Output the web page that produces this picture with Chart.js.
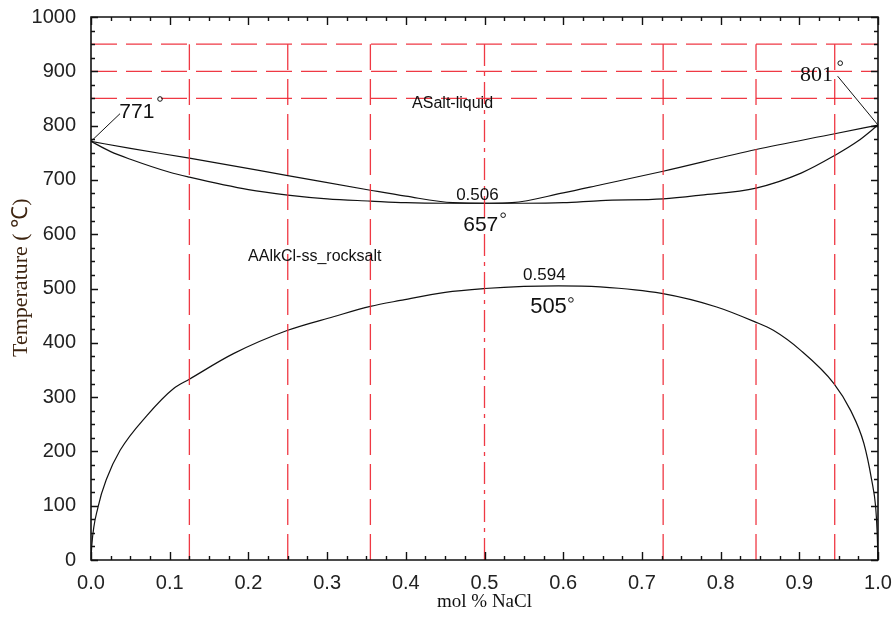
<!DOCTYPE html>
<html>
<head>
<meta charset="utf-8">
<script src="https://cdn.jsdelivr.net/npm/chart.js@4"></script>
<style>
  body { margin: 0; background: #fff; }
  #wrap { width: 894px; height: 618px; }
</style>
</head>
<body>
<div id="wrap"><canvas id="phase" width="894" height="618"></canvas></div>
<script>
// KCl - NaCl binary: liquidus, solidus and the rocksalt solvus
const liquidusX = [0, 0.05, 0.125, 0.25, 0.355, 0.4, 0.46, 0.506, 0.535, 0.6, 0.648, 0.727, 0.845, 0.945, 1];
const liquidusT = [771, 758, 740, 708, 681, 670, 658, 657, 658, 676, 691, 716, 756, 785, 801];

const solidusX = [0, 0.025, 0.05, 0.1, 0.125, 0.2, 0.25, 0.3, 0.355, 0.4, 0.45, 0.506, 0.55, 0.6, 0.648, 0.727, 0.775, 0.845, 0.903, 0.945, 0.975, 1];
const solidusT = [771, 752, 738, 714, 705, 682, 672, 665, 661, 658, 657, 657, 657, 658, 662, 665, 672, 685, 713, 745, 772, 801];

const solvusX = [0, 0.001, 0.009, 0.02, 0.037, 0.071, 0.105, 0.125, 0.181, 0.25, 0.308, 0.355, 0.393, 0.45, 0.5, 0.55, 0.594, 0.647, 0.725, 0.795, 0.843, 0.867, 0.901, 0.944, 0.965, 0.982, 0.992, 0.997, 0.999, 1];
const solvusT = [0, 27, 98, 150, 202, 266, 316, 333, 380, 423, 448, 467, 478, 493, 500, 504, 505, 503, 491, 466, 439, 423, 387, 325, 276, 215, 147, 98, 49, 0];

// red reference isotherms and isopleths
const isotherms = [850, 900, 950];
const isopleths = [0.125, 0.25, 0.355, 0.5, 0.727, 0.845, 0.945];
const isoplethTop = 950;

// axis ranges
const xMin = 0, xMax = 1, xStep = 0.025;
const tMin = 0, tMax = 1000, tStep = 25;

// text on the diagram: [text, x, T]
const fieldLabels = [
  ["ASalt-liquid", 0.408, 841],
  ["AAlkCl-ss_rocksalt", 0.1996, 558]
];
// invariant points
const minimumX = 0.506, minimumT = 657;
const maximumX = 0.594, maximumT = 505;
const meltKCl = 771, meltNaCl = 801;

const toPts = (xs, ys) => xs.map((x, i) => ({ x: x, y: ys[i] }));

const red = "rgba(238, 40, 52, 0.92)";
const datasets = [];

isotherms.forEach(t => {
  datasets.push({
    data: [{ x: xMin, y: t }, { x: xMax, y: t }],
    borderColor: red, borderWidth: 1.3, borderDash: [26, 9]
  });
});
isopleths.forEach(x => {
  datasets.push({
    data: [{ x: x, y: tMin }, { x: x, y: isoplethTop }],
    borderColor: red, borderWidth: 1.3,
    borderDash: x === 0.5 ? [22, 6, 4, 6] : [26, 9]
  });
});
[[liquidusX, liquidusT], [solidusX, solidusT], [solvusX, solvusT]].forEach(([xs, ts]) => {
  datasets.push({
    data: toPts(xs, ts),
    borderColor: "#111", borderWidth: 1.2,
    cubicInterpolationMode: "monotone"
  });
});

const sans = "'Liberation Sans', Arial, sans-serif";
const serif = "'Liberation Serif', 'Times New Roman', serif";

function degree(ctx, px, py) {
  ctx.beginPath();
  ctx.arc(px, py, 2.3, 0, Math.PI * 2);
  ctx.lineWidth = 1;
  ctx.strokeStyle = "#111";
  ctx.stroke();
}

const diagramText = {
  id: "diagramText",
  afterDatasetsDraw(chart) {
    const { ctx, scales: { x, y } } = chart;
    ctx.save();
    ctx.fillStyle = "#111";
    ctx.textBaseline = "middle";
    ctx.textAlign = "left";

    ctx.font = "16px " + sans;
    fieldLabels.forEach(([txt, vx, vt]) => {
      ctx.fillText(txt, x.getPixelForValue(vx), y.getPixelForValue(vt));
    });

    // congruent minimum on the liquidus
    ctx.font = "17px " + sans;
    ctx.fillText(minimumX.toFixed(3), x.getPixelForValue(0.464), y.getPixelForValue(672));
    ctx.font = "21px " + sans;
    ctx.fillText(String(minimumT), x.getPixelForValue(0.473), y.getPixelForValue(617));
    degree(ctx, x.getPixelForValue(0.5237), y.getPixelForValue(635));

    // solvus crest
    ctx.font = "17px " + sans;
    ctx.fillText(maximumX.toFixed(3), x.getPixelForValue(0.549), y.getPixelForValue(525));
    ctx.font = "22px " + sans;
    ctx.fillText(String(maximumT), x.getPixelForValue(0.558), y.getPixelForValue(466));
    degree(ctx, x.getPixelForValue(0.6098), y.getPixelForValue(479));

    // melting points of the end members with leader lines
    ctx.lineWidth = 1;
    ctx.strokeStyle = "#111";
    ctx.beginPath();
    ctx.moveTo(x.getPixelForValue(0), y.getPixelForValue(meltKCl));
    ctx.lineTo(x.getPixelForValue(0.0369), y.getPixelForValue(822));
    ctx.moveTo(x.getPixelForValue(1), y.getPixelForValue(meltNaCl));
    ctx.lineTo(x.getPixelForValue(0.9487), y.getPixelForValue(891));
    ctx.stroke();

    ctx.font = "21px " + sans;
    ctx.fillText(String(meltKCl), x.getPixelForValue(0.036), y.getPixelForValue(825));
    degree(ctx, x.getPixelForValue(0.0877), y.getPixelForValue(849));
    ctx.font = "22px " + serif;
    ctx.fillText(String(meltNaCl), x.getPixelForValue(0.901), y.getPixelForValue(893));
    degree(ctx, x.getPixelForValue(0.952), y.getPixelForValue(915));

    ctx.restore();
  },
  afterDraw(chart) {
    const { ctx, scales: { x, y } } = chart;
    const L = x.left, R = x.right, T = y.top, B = y.bottom;
    ctx.save();
    ctx.setLineDash([]);

    // frame
    ctx.strokeStyle = "#111";
    ctx.lineWidth = 1.6;
    ctx.beginPath();
    ctx.rect(L, T, R - L, B - T);
    ctx.stroke();

    // inward tick marks on all four sides
    ctx.lineWidth = 1.4;
    ctx.beginPath();
    x.ticks.forEach(t => {
      const px = Math.round(x.getPixelForValue(t.value)) + 0.5;
      const len = t.label !== "" ? 8 : 4;
      ctx.moveTo(px, B); ctx.lineTo(px, B - len);
      ctx.moveTo(px, T); ctx.lineTo(px, T + len);
    });
    y.ticks.forEach(t => {
      const py = Math.round(y.getPixelForValue(t.value)) + 0.5;
      const len = t.label !== "" ? 7 : 4;
      ctx.moveTo(L, py); ctx.lineTo(L + len, py);
      ctx.moveTo(R, py); ctx.lineTo(R - len, py);
    });
    ctx.stroke();

    // axis titles
    ctx.textBaseline = "middle";
    ctx.fillStyle = "#111";
    ctx.font = "19px " + serif;
    ctx.textAlign = "center";
    ctx.fillText("mol % NaCl", (L + R) / 2, 602);

    ctx.translate(21, 357);
    ctx.rotate(-Math.PI / 2);
    ctx.textAlign = "left";
    ctx.fillStyle = "#3d2410";
    ctx.font = "22px " + serif;
    ctx.fillText("Temperature ( ℃)", 0, 0);
    ctx.restore();
  }
};

const tickFont = { family: "'Liberation Sans', Arial, sans-serif", size: 20 };

// keep the plot box fixed; labels may overhang the edges
function fixBox(s) {
  s.paddingTop = 0; s.paddingBottom = 0; s.paddingLeft = 0; s.paddingRight = 0;
}

new Chart(document.getElementById("phase"), {
  type: "scatter",
  data: { datasets: datasets },
  options: {
    responsive: false,
    animation: false,
    devicePixelRatio: 1,
    showLine: true,
    elements: { point: { radius: 0 }, line: { tension: 0 } },
    layout: { padding: { left: 0, top: 17, right: 16, bottom: 0 } },
    plugins: { legend: { display: false }, tooltip: { enabled: false } },
    scales: {
      x: {
        type: "linear", min: xMin, max: xMax,
        grid: { display: false, drawTicks: false },
        border: { display: false },
        afterFit: s => { s.height = 58; fixBox(s); },
        ticks: {
          stepSize: xStep, autoSkip: false, maxRotation: 0, padding: 11,
          color: "#222", font: tickFont,
          callback: v => {
            const d = v * 10;
            return Math.abs(d - Math.round(d)) < 1e-6 ? (Math.round(d) / 10).toFixed(1) : "";
          }
        }
      },
      y: {
        type: "linear", min: tMin, max: tMax,
        grid: { display: false, drawTicks: false },
        border: { display: false },
        afterFit: s => { s.width = 91; fixBox(s); },
        ticks: {
          stepSize: tStep, autoSkip: false, padding: 15,
          color: "#222", font: tickFont,
          callback: v => (Math.round(v) % 100 === 0 ? String(Math.round(v)) : "")
        }
      }
    }
  },
  plugins: [diagramText]
});
</script>
</body>
</html>
